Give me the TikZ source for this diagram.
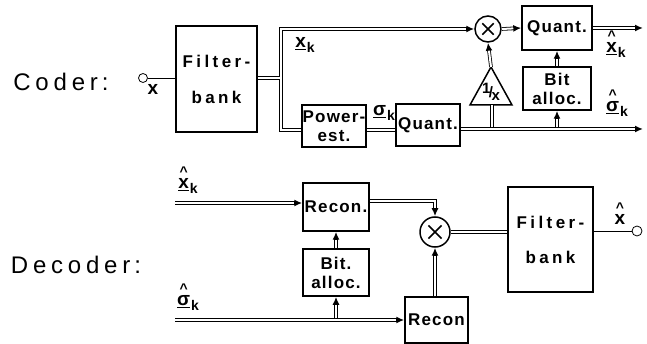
\documentclass[tikz,border=0pt]{standalone}
\usepackage{fontspec}
\setmainfont{Liberation Sans}
\usetikzlibrary{arrows.meta,calc}

\newcommand{\titlefont}{\fontsize{24}{26}\selectfont\addfontfeature{LetterSpace=20}}
\newcommand{\boxfont}{\bfseries\fontsize{17}{19}\selectfont\addfontfeature{LetterSpace=7}}
\newcommand{\fbfont}{\bfseries\fontsize{17}{19}\selectfont\addfontfeature{LetterSpace=20}}
\newcommand{\lblfont}{\bfseries\fontsize{19}{20}\selectfont}
\newcommand{\vsym}[2]{\underline{#1}\kern1pt\raisebox{-5pt}{\fontsize{14}{14}\selectfont #2}}
\newcommand{\hatsym}[1]{\shortstack{{\fontsize{14}{14}\selectfont\textasciicircum}\\[-1pt]#1}}

\tikzset{
  box/.style={draw, line width=1.5pt, font=\boxfont, align=center, inner sep=0pt},
  bus/.style={double, double distance=2pt, line width=0.8pt},
  busarr/.style={draw=white, line width=2pt, shorten >=8pt,
    preaction={draw=black, line width=3.6pt, shorten >=0pt, -{Latex[length=8pt,width=7pt]}}},
  mult/.style={circle, draw, line width=1.5pt, inner sep=0pt,
    path picture={\draw[line width=1.5pt]
      ($(path picture bounding box.north west)!0.28!(path picture bounding box.south east)$) --
      ($(path picture bounding box.north west)!0.72!(path picture bounding box.south east)$)
      ($(path picture bounding box.south west)!0.28!(path picture bounding box.north east)$) --
      ($(path picture bounding box.south west)!0.72!(path picture bounding box.north east)$);}},
  port/.style={circle, draw, line width=0.8pt, minimum size=9, inner sep=0pt},
  lbl/.style={font=\lblfont, inner sep=0pt},
}

\begin{document}
\begin{tikzpicture}[x=1pt, y=-1pt, line width=0.8pt, line cap=butt, line join=miter]

  %% ════ Coder ════
  \node[font=\titlefont] (coder) at (61,82) {Coder\,:};
  \node[port] (xin) at (143,78) {};
  \node[lbl] (xinlbl) at (153,89) {x};
  \node[box, font=\fbfont, minimum width=81, minimum height=106] (fb1) at (216.5,79) {Filter-\\[17pt]bank};
  \node[box, minimum width=64, minimum height=42] (pwr) at (334,126) {Power-\\est.};
  \node[box, minimum width=64, minimum height=42] (q2) at (428,125) {Quant.};
  \node[mult, minimum size=26] (mul1) at (488,29) {};
  \node[box, minimum width=70, minimum height=44] (q1) at (557,28) {Quant.};
  \node[box, minimum width=68, minimum height=43] (bit1) at (557,88.5) {Bit\\alloc.};

  % 1/x triangle
  \coordinate (inv) at (491,67);
  \coordinate (invb) at (492,105);
  \draw[line width=1.5pt] (inv) -- (512,105) -- (470,105) -- cycle;
  \node[font=\bfseries\fontsize{15}{15}\selectfont, inner sep=0pt] (invtxt) at (491,92)
    {\raisebox{4pt}{1}\kern-1.5pt/\kern-1.5pt\raisebox{-3pt}{x}};

  % bus rows
  \coordinate (hi) at (281,29);
  \coordinate (lo) at (281,130);
  \coordinate (split) at (279.6,78);
  \coordinate (xkout) at (643,28);
  \coordinate (skout) at (643,129);

  \draw (xin) -- (fb1.west |- xin);
  \draw[busarr] (pwr.west |- lo) -- (lo) -- (hi) -- (mul1.west);
  \draw[bus] (fb1.east |- split) -- (split);
  \draw[busarr] (mul1.east) -- (q1.west);
  \draw[busarr] (q1.east) -- (xkout);
  \draw[busarr] (bit1.north) -- (q1.south);
  \draw[busarr] (inv) -- (mul1.south);
  \draw[bus] (pwr.east |- lo) -- (q2.west |- lo);
  \draw[busarr] (q2.east |- skout) -- (skout);
  \draw[bus] (invb |- 0,127.4) -- (invb);
  \draw[busarr] (557,127.4) -- (bit1.south);

  \node[lbl] (xk) at (305,45) {\vsym{x}{k}};
  \node[lbl] (sk) at (384,113) {\vsym{σ}{k}};
  \node[lbl] (xkhat) at (616,44) {\vsym{\hatsym{x}}{k}};
  \node[lbl] (skhat) at (617,103) {\vsym{\hatsym{σ}}{k}};

  %% ════ Decoder ════
  \node[font=\titlefont] (decoder) at (76,265) {Decoder\,:};
  \node[box, minimum width=66, minimum height=48] (rec1) at (336,207) {Recon.};
  \node[box, minimum width=66, minimum height=47] (bit2) at (336,272.5) {Bit.\\alloc.};
  \node[box, minimum width=63, minimum height=46] (rec2) at (436.5,320) {Recon};
  \node[mult, minimum size=30] (mul2) at (435,232) {};
  \node[box, font=\fbfont, minimum width=85, minimum height=105] (fb2) at (550.5,239.5) {Filter-\\[16pt]bank};
  \node[port, minimum size=10] (xout) at (637,231) {};

  \coordinate (xkin) at (175,203);
  \coordinate (skin) at (175,320);
  \coordinate (recout) at (369,201);

  \draw[busarr] (xkin) -- (rec1.west |- xkin);
  \draw[busarr] (skin) -- (rec2.west |- skin);
  \draw[busarr] (bit2.south |- 0,318.4) -- (bit2.south);
  \draw[busarr] (bit2.north) -- (rec1.south);
  \draw[busarr] (rec1.east |- recout) -| (mul2.north);
  \draw[busarr] (mul2.south |- rec2.north) -- (mul2.south);
  \draw[bus] (mul2.east) -- (fb2.west |- mul2);
  \draw (fb2.east |- xout) -- (xout);

  \node[lbl] (xkhatin) at (188,180) {\vsym{\hatsym{x}}{k}};
  \node[lbl] (skhatin) at (188,297) {\vsym{\hatsym{σ}}{k}};
  \node[lbl] (xhat) at (620,214) {\hatsym{x}};

  % fix canvas
  \pgfresetboundingbox
  \path[use as bounding box] (0,0) rectangle (647,344);
\end{tikzpicture}
\end{document}
